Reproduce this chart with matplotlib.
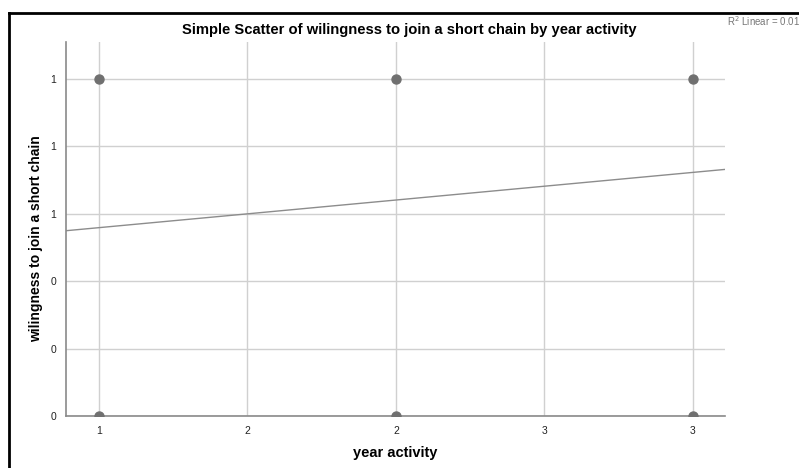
import matplotlib
matplotlib.use("Agg")
import matplotlib.pyplot as plt
import numpy as np

# Data
year_activity = [1, 1, 2, 2, 3, 3]
willingness = [0, 1, 0, 1, 0, 1]
fit_intercept = 0.477
fit_slope = 0.082
r2_label = "R$^2$ Linear = 0.01"
x_ticks = [1.0, 1.5, 2.0, 2.5, 3.0]
x_tick_labels = ["1", "2", "2", "3", "3"]
y_ticks = [0.0, 0.2, 0.4, 0.6, 0.8, 1.0]
y_tick_labels = ["0", "0", "0", "1", "1", "1"]

plt.rcParams['font.family'] = ['Liberation Sans', 'DejaVu Sans']

fig = plt.figure(figsize=(7.99, 4.68), dpi=100)
ax = fig.add_axes([66/799, 1-416/468, (725-66)/799, (416-42)/468])

xlim = (0.889, 3.108)
ylim = (0.0, 1.11)
ax.set_xlim(*xlim)
ax.set_ylim(*ylim)

ax.set_xticks(x_ticks)
ax.set_xticklabels(x_tick_labels)
ax.set_yticks(y_ticks)
ax.set_yticklabels(y_tick_labels)
ax.tick_params(length=0, labelsize=7.5, colors='#222222', pad=7)

ax.grid(True, color='#d0d0d0', linewidth=1)
ax.set_axisbelow(True)

for s in ['top', 'right']:
    ax.spines[s].set_visible(False)
for s in ['left', 'bottom']:
    ax.spines[s].set_color('#8a8a8a')
    ax.spines[s].set_linewidth(1.2)

ax.scatter(year_activity, willingness, s=42, color='#707070', zorder=3, clip_on=True)

xs = np.array(xlim)
ax.plot(xs, fit_intercept + fit_slope * xs, color='#8c8c8c', linewidth=1, zorder=2)

fig.text(395/799, 1-453/468, "year activity", ha='center', va='center',
         fontsize=10.5, fontweight='bold')
fig.text(36/799, 1-239/468, "wilingness to join a short chain", ha='center', va='center',
         rotation=90, fontsize=10, fontweight='bold')

fig.text(409/799, 1-30/468, "Simple Scatter of wilingness to join a short chain by year activity",
         ha='center', va='center', fontsize=10.6, fontweight='bold')
fig.text(727/799, 1-21/468, r2_label, ha='left', va='center', fontsize=7, color='#777777')

# outer frame (left and top)
fig.add_artist(plt.Line2D([9/799, 9/799], [0, 1-13/468], transform=fig.transFigure, color='black', linewidth=2))
fig.add_artist(plt.Line2D([9/799, 1], [1-13/468, 1-13/468], transform=fig.transFigure, color='black', linewidth=2))

fig.savefig("out.png", dpi=100)
